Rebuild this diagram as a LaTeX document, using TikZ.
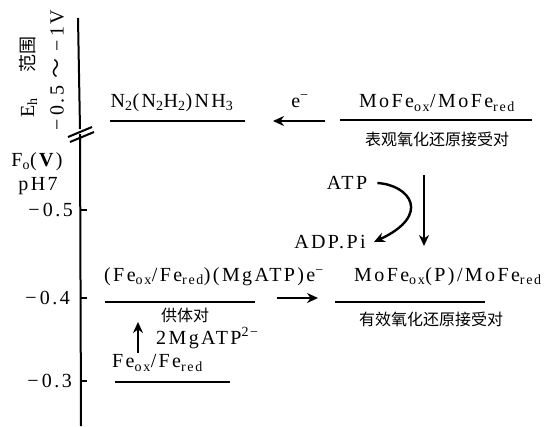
\documentclass[tikz,border=0pt]{standalone}
\usepackage{fontspec}
\setmainfont{Liberation Serif}
\newfontfamily\spaced[LetterSpace=12]{Liberation Serif}
\newfontfamily\cjk{Noto Sans CJK SC}
\usetikzlibrary{arrows.meta}
\begin{document}
\begin{tikzpicture}[x=1pt,y=-1pt,
  lab/.style={inner sep=0pt, font=\spaced\fontsize{20}{22}\selectfont},
  cn/.style={inner sep=0pt, font=\cjk\fontsize{16}{18}\selectfont},
  bar/.style={line width=2.4pt},
  axis/.style={line width=2pt},
  arr/.style={line width=2.4pt,-{Stealth[length=11pt,width=10pt]}}]
\useasboundingbox (0,0) rectangle (557,426);
% axis
\coordinate (ax1) at (78,18); \coordinate (ax2) at (80,129);
\coordinate (ax3) at (80,134); \coordinate (ax4) at (81,426);
\draw[axis] (ax1)--(ax2);
\draw[axis] (ax3)--(ax4);
\coordinate (s1a) at (68,137); \coordinate (s1b) at (92,127);
\coordinate (s2a) at (70,142); \coordinate (s2b) at (94,132);
\draw[axis] (s1a)--(s1b);
\draw[axis] (s2a)--(s2b);
\foreach \n/\y in {t5/210,t4/298,t3/381}{
  \coordinate (\n a) at (80,\y); \coordinate (\n b) at (87,\y);
  \draw[axis] (\n a)--(\n b);}
\node[lab,anchor=east] (l5) at (73,210) {−\,0.5};
\node[lab,anchor=east] (l4) at (70,298) {−\,0.4};
\node[lab,anchor=east] (l3) at (72,381) {−\,0.3};
\node[lab] (ph) at (38,186) {pH7};
\node[lab] (f0) at (37,162) {F\textsubscript{o}(\textbf{V})};
\node[lab,rotate=90] (eh) at (28,77) {E\textsubscript{h}\hspace{26pt}{\cjk\fontsize{18}{20}\selectfont 范围}};
\node[lab,rotate=90] (rng) at (57,70) {−\,0.5 {\cjk ～} −\,1V};
% top row
\node[lab] (n2) at (172,103) {N\textsubscript{2}(N\textsubscript{2}H\textsubscript{2})NH\textsubscript{3}};
\coordinate (b1a) at (110,121); \coordinate (b1b) at (245,121);
\draw[bar] (b1a)--(b1b);
\node[lab] (e1) at (300,101) {e\textsuperscript{−}};
\coordinate (a1s) at (325,121); \coordinate (a1e) at (273,121);
\draw[arr] (a1s)--(a1e);
\node[lab] (mo1) at (437,103) {MoFe\textsubscript{ox}/MoFe\textsubscript{red}};
\coordinate (b2a) at (340,120); \coordinate (b2b) at (532,120);
\draw[bar] (b2a)--(b2b);
\node[cn] (c1) at (437,139) {表观氧化还原接受对};
% ATP
\node[lab] (atp) at (347,183) {ATP};
\node[lab] (adp) at (330,242) {ADP.Pi};
\draw[arr] (atp.east) ++(10,0) coordinate (cs) .. controls (410,185) and (432,215) .. ([xshift=8pt]adp.east);
\coordinate (v1) at (424,175); \coordinate (v2) at (424,246);
\draw[arr] (v1)--(v2);
% middle row
\node[lab,anchor=west] (fe1) at (104,277) {(Fe\textsubscript{ox}/Fe\textsubscript{red})(MgATP)e\textsuperscript{−}};
\coordinate (b3a) at (105,302); \coordinate (b3b) at (255,302);
\draw[bar] (b3a)--(b3b);
\coordinate (a2s) at (277,298); \coordinate (a2e) at (318,298);
\draw[arr] (a2s)--(a2e);
\node[lab,anchor=west] (mo2) at (354,277) {MoFe\textsubscript{ox}(P)/MoFe\textsubscript{red}};
\coordinate (b4a) at (335,302); \coordinate (b4b) at (485,302);
\draw[bar] (b4a)--(b4b);
\node[cn] (c2) at (431,319) {有效氧化还原接受对};
\node[cn] (gt) at (185,315) {供体对};
\coordinate (u1) at (138,353); \coordinate (u2) at (138,322);
\draw[arr] (u1)--(u2);
\node[lab,anchor=west] (mg) at (156,338) {2MgATP\textsuperscript{2−}};
\node[lab,anchor=west] (fe2) at (112,363) {Fe\textsubscript{ox}/Fe\textsubscript{red}};
\coordinate (b5a) at (115,382); \coordinate (b5b) at (230,382);
\draw[bar] (b5a)--(b5b);
\end{tikzpicture}
\end{document}
